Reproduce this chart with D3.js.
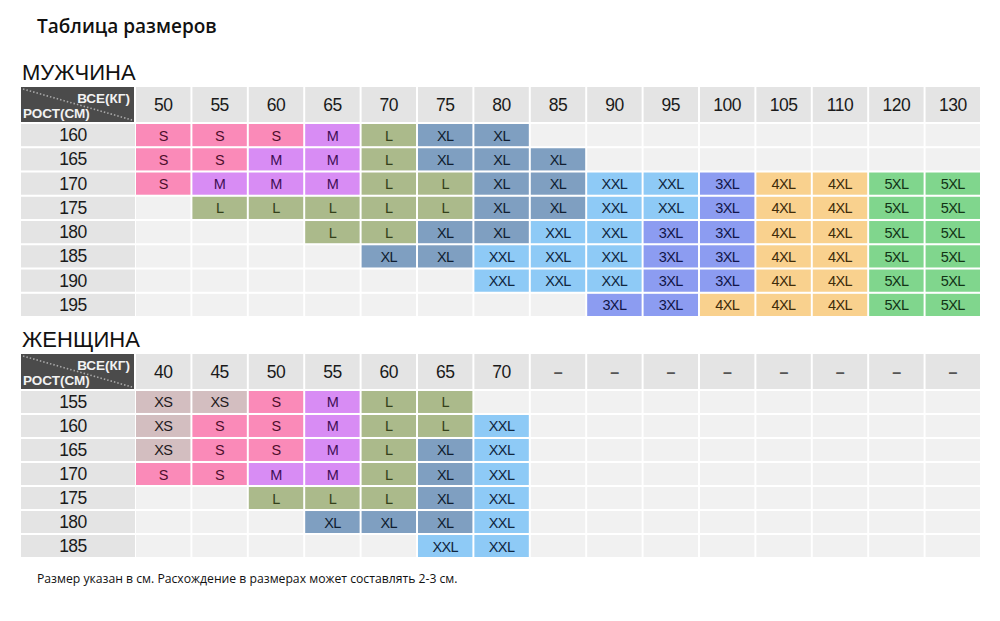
<!DOCTYPE html>
<html>
<head>
<meta charset="utf-8">
<script src="https://cdn.jsdelivr.net/npm/d3@7.9.0/dist/d3.min.js"></script>
<style>
  body { margin: 0; background: #fff; }
  svg { display: block; }
</style>
</head>
<body>
<svg id="chart" width="1000" height="621"></svg>
<script>
// Data
const menWeights = ['50', '55', '60', '65', '70', '75', '80', '85', '90', '95', '100', '105', '110', '120', '130'];
const menHeights = ['160', '165', '170', '175', '180', '185', '190', '195'];
const menSizes = [
  ['S', 'S', 'S', 'M', 'L', 'XL', 'XL', '', '', '', '', '', '', '', ''],
  ['S', 'S', 'M', 'M', 'L', 'XL', 'XL', 'XL', '', '', '', '', '', '', ''],
  ['S', 'M', 'M', 'M', 'L', 'L', 'XL', 'XL', 'XXL', 'XXL', '3XL', '4XL', '4XL', '5XL', '5XL'],
  ['', 'L', 'L', 'L', 'L', 'L', 'XL', 'XL', 'XXL', 'XXL', '3XL', '4XL', '4XL', '5XL', '5XL'],
  ['', '', '', 'L', 'L', 'XL', 'XL', 'XXL', 'XXL', '3XL', '3XL', '4XL', '4XL', '5XL', '5XL'],
  ['', '', '', '', 'XL', 'XL', 'XXL', 'XXL', 'XXL', '3XL', '3XL', '4XL', '4XL', '5XL', '5XL'],
  ['', '', '', '', '', '', 'XXL', 'XXL', 'XXL', '3XL', '3XL', '4XL', '4XL', '5XL', '5XL'],
  ['', '', '', '', '', '', '', '', '3XL', '3XL', '4XL', '4XL', '4XL', '5XL', '5XL']
];

const womenWeights = ['40', '45', '50', '55', '60', '65', '70', '–', '–', '–', '–', '–', '–', '–', '–'];
const womenHeights = ['155', '160', '165', '170', '175', '180', '185'];
const womenSizes = [
  ['XS', 'XS', 'S', 'M', 'L', 'L', '', '', '', '', '', '', '', '', ''],
  ['XS', 'S', 'S', 'M', 'L', 'L', 'XXL', '', '', '', '', '', '', '', ''],
  ['XS', 'S', 'S', 'M', 'L', 'XL', 'XXL', '', '', '', '', '', '', '', ''],
  ['S', 'S', 'M', 'M', 'L', 'XL', 'XXL', '', '', '', '', '', '', '', ''],
  ['', '', 'L', 'L', 'L', 'XL', 'XXL', '', '', '', '', '', '', '', ''],
  ['', '', '', 'XL', 'XL', 'XL', 'XXL', '', '', '', '', '', '', '', ''],
  ['', '', '', '', '', 'XXL', 'XXL', '', '', '', '', '', '', '', '']
];

const sizeNames = ['XS', 'S', 'M', 'L', 'XL', 'XXL', '3XL', '4XL', '5XL'];
const sizeFills = ['#d3bec0', '#fa8ab8', '#d88cf4', '#abba8b', '#7f9fc1', '#8ecaf6', '#8c9cf1', '#f9d18e', '#80d68d'];
const sizeInks  = ['#221a1c', '#4e0f2c', '#3e0f55', '#34401a', '#0f1d30', '#10263e', '#111548', '#3e2c0a', '#123316'];

const fill = d3.scaleOrdinal().domain(sizeNames).range(sizeFills);
const ink = d3.scaleOrdinal().domain(sizeNames).range(sizeInks);

const svg = d3.select('#chart');

// Title and footnote
svg.append('text')
  .attr('x', 37).attr('y', 33)
  .attr('font-family', 'Open Sans, sans-serif')
  .attr('font-weight', 600)
  .attr('font-size', 19)
  .attr('fill', '#111')
  .text('Таблица размеров');

svg.append('text')
  .attr('x', 37).attr('y', 583)
  .attr('font-family', 'Open Sans, sans-serif')
  .attr('font-size', 12.2)
  .attr('fill', '#111')
  .text('Размер указан в см. Расхождение в размерах может составлять 2-3 см.');

// Draws one size table
function drawTable(opts) {
  const g = svg.append('g');
  const x = d3.scaleBand().domain(d3.range(opts.weights.length))
    .range([136, 980]).paddingInner(0.035);
  const y = d3.scaleBand().domain(opts.heights)
    .range([opts.rowsTop, opts.rowsBottom]).paddingInner(0.085);
  const labelX0 = 21, labelX1 = 134;

  // section heading
  g.append('text')
    .attr('x', 22).attr('y', opts.headTop - 7)
    .attr('font-family', 'Liberation Sans, Arial, sans-serif')
    .attr('font-size', 22)
    .attr('fill', '#111')
    .text(opts.title);

  // dark corner cell
  const hh = opts.headBottom - opts.headTop;
  g.append('rect')
    .attr('x', labelX0).attr('y', opts.headTop)
    .attr('width', labelX1 - labelX0).attr('height', hh)
    .attr('fill', '#4b4b4b');
  g.append('line')
    .attr('x1', labelX0 + 2).attr('y1', opts.headTop + 2)
    .attr('x2', labelX1 - 2).attr('y2', opts.headBottom - 2)
    .attr('stroke', '#a8a8a8').attr('stroke-width', 1.6)
    .attr('stroke-dasharray', '1.5 2');
  g.append('text')
    .attr('x', labelX1 - 4).attr('y', opts.headTop + 16)
    .attr('text-anchor', 'end')
    .attr('font-family', 'Liberation Sans Narrow, Liberation Sans, Arial, sans-serif')
    .attr('font-weight', 700).attr('font-size', 13.5)
    .attr('fill', '#f2f2f2')
    .text('ВСЕ(КГ)');
  g.append('text')
    .attr('x', labelX0 + 2).attr('y', opts.headBottom - 4)
    .attr('font-family', 'Liberation Sans Narrow, Liberation Sans, Arial, sans-serif')
    .attr('font-weight', 700).attr('font-size', 13.5)
    .attr('fill', '#f2f2f2')
    .text('РОСТ(СМ)');

  // weight header cells
  const head = g.selectAll('.wh').data(opts.weights).join('g').attr('class', 'wh');
  head.append('rect')
    .attr('x', (d, i) => x(i)).attr('y', opts.headTop)
    .attr('width', x.bandwidth()).attr('height', hh)
    .attr('fill', '#e4e4e4');
  head.append('text')
    .attr('x', (d, i) => x(i) + x.bandwidth() / 2)
    .attr('y', (opts.headTop + opts.headBottom) / 2 + 6)
    .attr('text-anchor', 'middle')
    .attr('font-family', 'Liberation Sans, Arial, sans-serif')
    .attr('font-size', d => d === '–' ? 16 : 17.5)
    .attr('font-weight', d => d === '–' ? 700 : 400)
    .attr('letter-spacing', -0.5)
    .attr('fill', d => d === '–' ? '#555' : '#1a1a1a')
    .text(d => d);

  // height label cells
  const rows = g.selectAll('.hr').data(opts.heights).join('g').attr('class', 'hr');
  rows.append('rect')
    .attr('x', labelX0).attr('y', d => y(d))
    .attr('width', labelX1 - labelX0 + 1).attr('height', y.bandwidth())
    .attr('fill', '#e4e4e4');
  rows.append('text')
    .attr('x', 73)
    .attr('y', d => y(d) + y.bandwidth() / 2 + 6)
    .attr('text-anchor', 'middle')
    .attr('font-family', 'Liberation Sans, Arial, sans-serif')
    .attr('font-size', 17.5)
    .attr('letter-spacing', -0.5)
    .attr('fill', '#1a1a1a')
    .text(d => d);

  // size cells
  const cells = [];
  opts.sizes.forEach((row, r) => row.forEach((s, c) => {
    cells.push({ h: opts.heights[r], c: c, s: s });
  }));
  const cell = g.selectAll('.cell').data(cells).join('g').attr('class', 'cell');
  cell.append('rect')
    .attr('x', d => x(d.c)).attr('y', d => y(d.h))
    .attr('width', x.bandwidth()).attr('height', y.bandwidth())
    .attr('fill', d => d.s ? fill(d.s) : '#f1f1f1');
  cell.filter(d => d.s).append('text')
    .attr('x', d => x(d.c) + x.bandwidth() / 2)
    .attr('y', d => y(d.h) + y.bandwidth() / 2 + 5.5)
    .attr('text-anchor', 'middle')
    .attr('font-family', 'Liberation Sans, Arial, sans-serif')
    .attr('font-size', 14.5)
    .attr('letter-spacing', -0.6)
    .attr('fill', d => ink(d.s))
    .text(d => d.s);
}

drawTable({
  title: 'МУЖЧИНА',
  weights: menWeights, heights: menHeights, sizes: menSizes,
  headTop: 87, headBottom: 122, rowsTop: 124, rowsBottom: 316
});

drawTable({
  title: 'ЖЕНЩИНА',
  weights: womenWeights, heights: womenHeights, sizes: womenSizes,
  headTop: 354, headBottom: 389, rowsTop: 391, rowsBottom: 557
});
</script>
</body>
</html>
